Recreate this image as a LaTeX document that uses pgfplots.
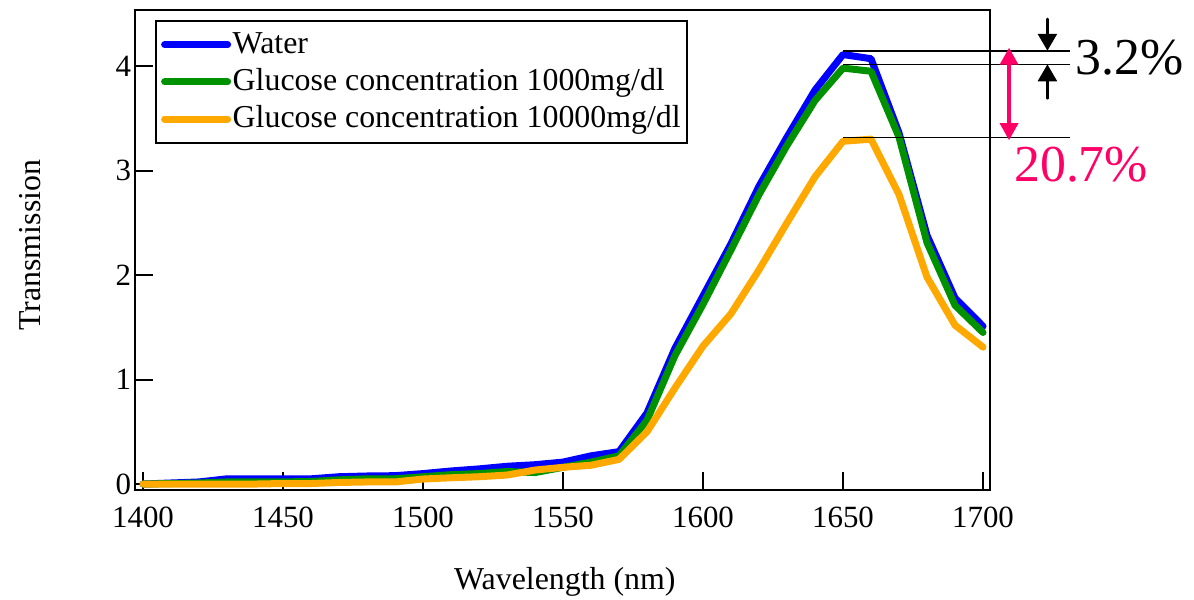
\documentclass[border=0pt]{standalone}
\usepackage{pgfplots}
\pgfplotsset{compat=1.18}
\usepackage{fontspec}
\setmainfont{Liberation Serif}
\usetikzlibrary{arrows.meta}
\definecolor{cblue}{RGB}{0,0,255}
\definecolor{cgreen}{RGB}{0,145,0}
\definecolor{corange}{RGB}{255,168,0}
\definecolor{cpink}{RGB}{255,0,102}
\pgfplotstableread{
x water g1000 g10000
1400 0.00 0.00 0.00
1410 0.01 0.005 0.00
1420 0.02 0.01 0.00
1430 0.05 0.02 0.00
1440 0.05 0.02 0.00
1450 0.05 0.02 0.005
1460 0.05 0.025 0.005
1470 0.07 0.04 0.015
1480 0.077 0.05 0.02
1490 0.08 0.05 0.02
1500 0.10 0.07 0.048
1510 0.125 0.09 0.06
1520 0.145 0.10 0.07
1530 0.17 0.12 0.086
1540 0.185 0.11 0.134
1550 0.21 0.16 0.16
1560 0.27 0.21 0.18
1570 0.31 0.27 0.236
1580 0.68 0.61 0.50
1590 1.30 1.23 0.92
1600 1.80 1.72 1.32
1610 2.30 2.24 1.63
1620 2.85 2.77 2.05
1630 3.32 3.24 2.50
1640 3.77 3.67 2.94
1650 4.11 3.98 3.28
1660 4.07 3.95 3.30
1670 3.36 3.32 2.77
1680 2.38 2.31 1.98
1690 1.78 1.71 1.52
1700 1.51 1.45 1.31
}\datatable
\begin{document}
\begin{tikzpicture}
\begin{axis}[
  scale only axis, width=427.7bp, height=240bp,
  xmin=1397, xmax=1702.5, ymin=-0.057, ymax=4.536,
  xtick={1400,1450,...,1700}, ytick={0,1,2,3,4},
  axis line style={line width=1bp},
  tick style={line width=1bp, black},
  tick align=inside, major tick length=9bp,
  xtick pos=bottom, ytick pos=left,
  ticklabel style={font=\rmfamily\fontsize{15.5}{18}\selectfont},
  xticklabel style={yshift=-5bp},
  yticklabel style={xshift=1.7bp},
  /pgf/number format/assume math mode=true,
  /pgf/number format/1000 sep={},
  label style={font=\rmfamily\fontsize{16}{19}\selectfont},
  xlabel={Wavelength (nm)}, ylabel={Transmission},
  xlabel style={at={(axis description cs:0.503,-0.1917)}, anchor=center},
  ylabel style={at={(axis description cs:-0.122,0.51)}, anchor=center},
  clip=false,
  legend cell align=left,
  legend image code/.code={\draw[#1, line cap=round] (0bp,0bp) -- (31.5bp,0bp);},
  legend style={at={(0.024,0.979)}, anchor=north west, draw=black, line width=1bp,
    font=\rmfamily\fontsize{16}{19}\selectfont, inner sep=2.5bp, row sep=0pt,
    nodes={inner sep=0.8bp, text height=12.7bp, text depth=4.3bp}},
  every axis plot/.append style={line width=3.5bp, line join=round, line cap=round},
]
\addplot[cblue] table[x=x,y=water] {\datatable};
\addlegendentry{Water}
\addplot[cgreen] table[x=x,y=g1000] {\datatable};
\addlegendentry{Glucose concentration 1000mg/dl}
\addplot[corange] table[x=x,y=g10000] {\datatable};
\addlegendentry{Glucose concentration 10000mg/dl}
% annotation lines
\draw[black, line width=0.75bp] (axis cs:1650,4.146) -- (axis cs:1731,4.146);
\draw[black, line width=0.75bp] (axis cs:1650,4.016) -- (axis cs:1731,4.016);
\draw[black, line width=0.75bp] (axis cs:1650,3.318) -- (axis cs:1731,3.318);
\draw[black, line width=1.3bp, line cap=round, -{Triangle[width=9.5bp,length=8.5bp]}] (axis cs:1723,4.45) -- (axis cs:1723,4.146);
\draw[black, line width=1.3bp, line cap=round, -{Triangle[width=9.5bp,length=8.5bp]}] (axis cs:1723,3.69) -- (axis cs:1723,4.016);
\draw[cpink, line width=1.7bp, {Triangle[width=9bp,length=8.5bp]}-{Triangle[width=9bp,length=8.5bp]}] (axis cs:1709.3,4.175) -- (axis cs:1709.3,3.29);
\node[anchor=west, inner sep=0pt, font=\rmfamily\fontsize{26}{30}\selectfont] at (axis cs:1733,4.08) {3.2\%};
\node[anchor=west, inner sep=0pt, text=cpink, font=\rmfamily\fontsize{26}{30}\selectfont] at (axis cs:1711,3.053) {20.7\%};
\end{axis}
\pgfresetboundingbox
\path ([shift={(-67.3bp,-55bp)}]current axis.south west) rectangle ([shift={(102bp,5bp)}]current axis.north east);
\end{tikzpicture}
\end{document}
